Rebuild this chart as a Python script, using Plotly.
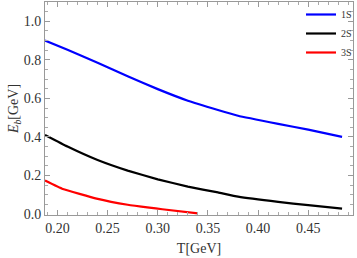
import plotly.graph_objects as go

# Data
T_1s = [0.1876, 0.21, 0.24, 0.27, 0.30, 0.33, 0.36, 0.38, 0.42, 0.45, 0.4837]
E_1s = [0.90, 0.852, 0.785, 0.715, 0.648, 0.588, 0.54, 0.51, 0.468, 0.438, 0.40]

T_2s = [0.1876, 0.21, 0.24, 0.27, 0.30, 0.33, 0.36, 0.38, 0.42, 0.45, 0.4837]
E_2s = [0.41, 0.35, 0.28, 0.225, 0.18, 0.142, 0.112, 0.09, 0.063, 0.046, 0.028]

T_3s = [0.1876, 0.2054, 0.239, 0.27, 0.2916, 0.3045, 0.340]
E_3s = [0.174, 0.13, 0.08, 0.048, 0.033, 0.025, 0.003]

names = ["1S", "2S", "3S"]
colors = ["#0000ff", "#000000", "#ff0000"]

x_ticks = [0.20, 0.25, 0.30, 0.35, 0.40, 0.45]
y_ticks = [0.0, 0.2, 0.4, 0.6, 0.8, 1.0]

fig = go.Figure()
for T, E, n, c in zip([T_1s, T_2s, T_3s], [E_1s, E_2s, E_3s], names, colors):
    fig.add_trace(go.Scatter(x=T, y=E, mode="lines", name=n,
                             line=dict(color=c, width=2.2, shape="spline", smoothing=0.3)))

axis_common = dict(
    showline=True, linecolor="#999999", linewidth=1, mirror="allticks",
    ticks="inside", ticklen=5, tickcolor="#999999", tickwidth=1,
    showgrid=False, zeroline=False,
    tickfont=dict(family="Liberation Serif", size=14, color="#333333"),
)

fig.update_xaxes(range=[0.1876, 0.4946], tickvals=x_ticks,
                 ticktext=[f"{v:.2f}" for v in x_ticks],
                 minor=dict(dtick=0.01, ticks="inside", ticklen=3, tickcolor="#aaaaaa", showgrid=False),
                 title=dict(text="T[GeV]", font=dict(family="Liberation Serif", size=14, color="#333333"), standoff=8),
                 **axis_common)
fig.update_yaxes(range=[-0.005, 1.1], tickvals=y_ticks,
                 ticktext=[f"{v:.1f}" for v in y_ticks],
                 minor=dict(dtick=0.05, ticks="inside", ticklen=3, tickcolor="#aaaaaa", showgrid=False),
                 title=dict(text="<i>E</i><sub><i>b</i></sub>[GeV]", font=dict(family="Liberation Serif", size=14, color="#333333"), standoff=1),
                 **axis_common)

fig.update_layout(
    width=357, height=258,
    margin=dict(l=45, r=3, t=0, b=43),
    paper_bgcolor="white", plot_bgcolor="white",
    showlegend=True,
    legend=dict(x=0.832, y=1.01, xanchor="left", yanchor="top",
                bgcolor="rgba(0,0,0,0)", itemwidth=30, tracegroupgap=0,
                font=dict(family="Liberation Serif", size=10, color="#333333")),
)

fig.write_html("out.html", config={"displayModeBar": False},
               post_script="document.body.style.margin='0';document.body.style.padding='0';")
